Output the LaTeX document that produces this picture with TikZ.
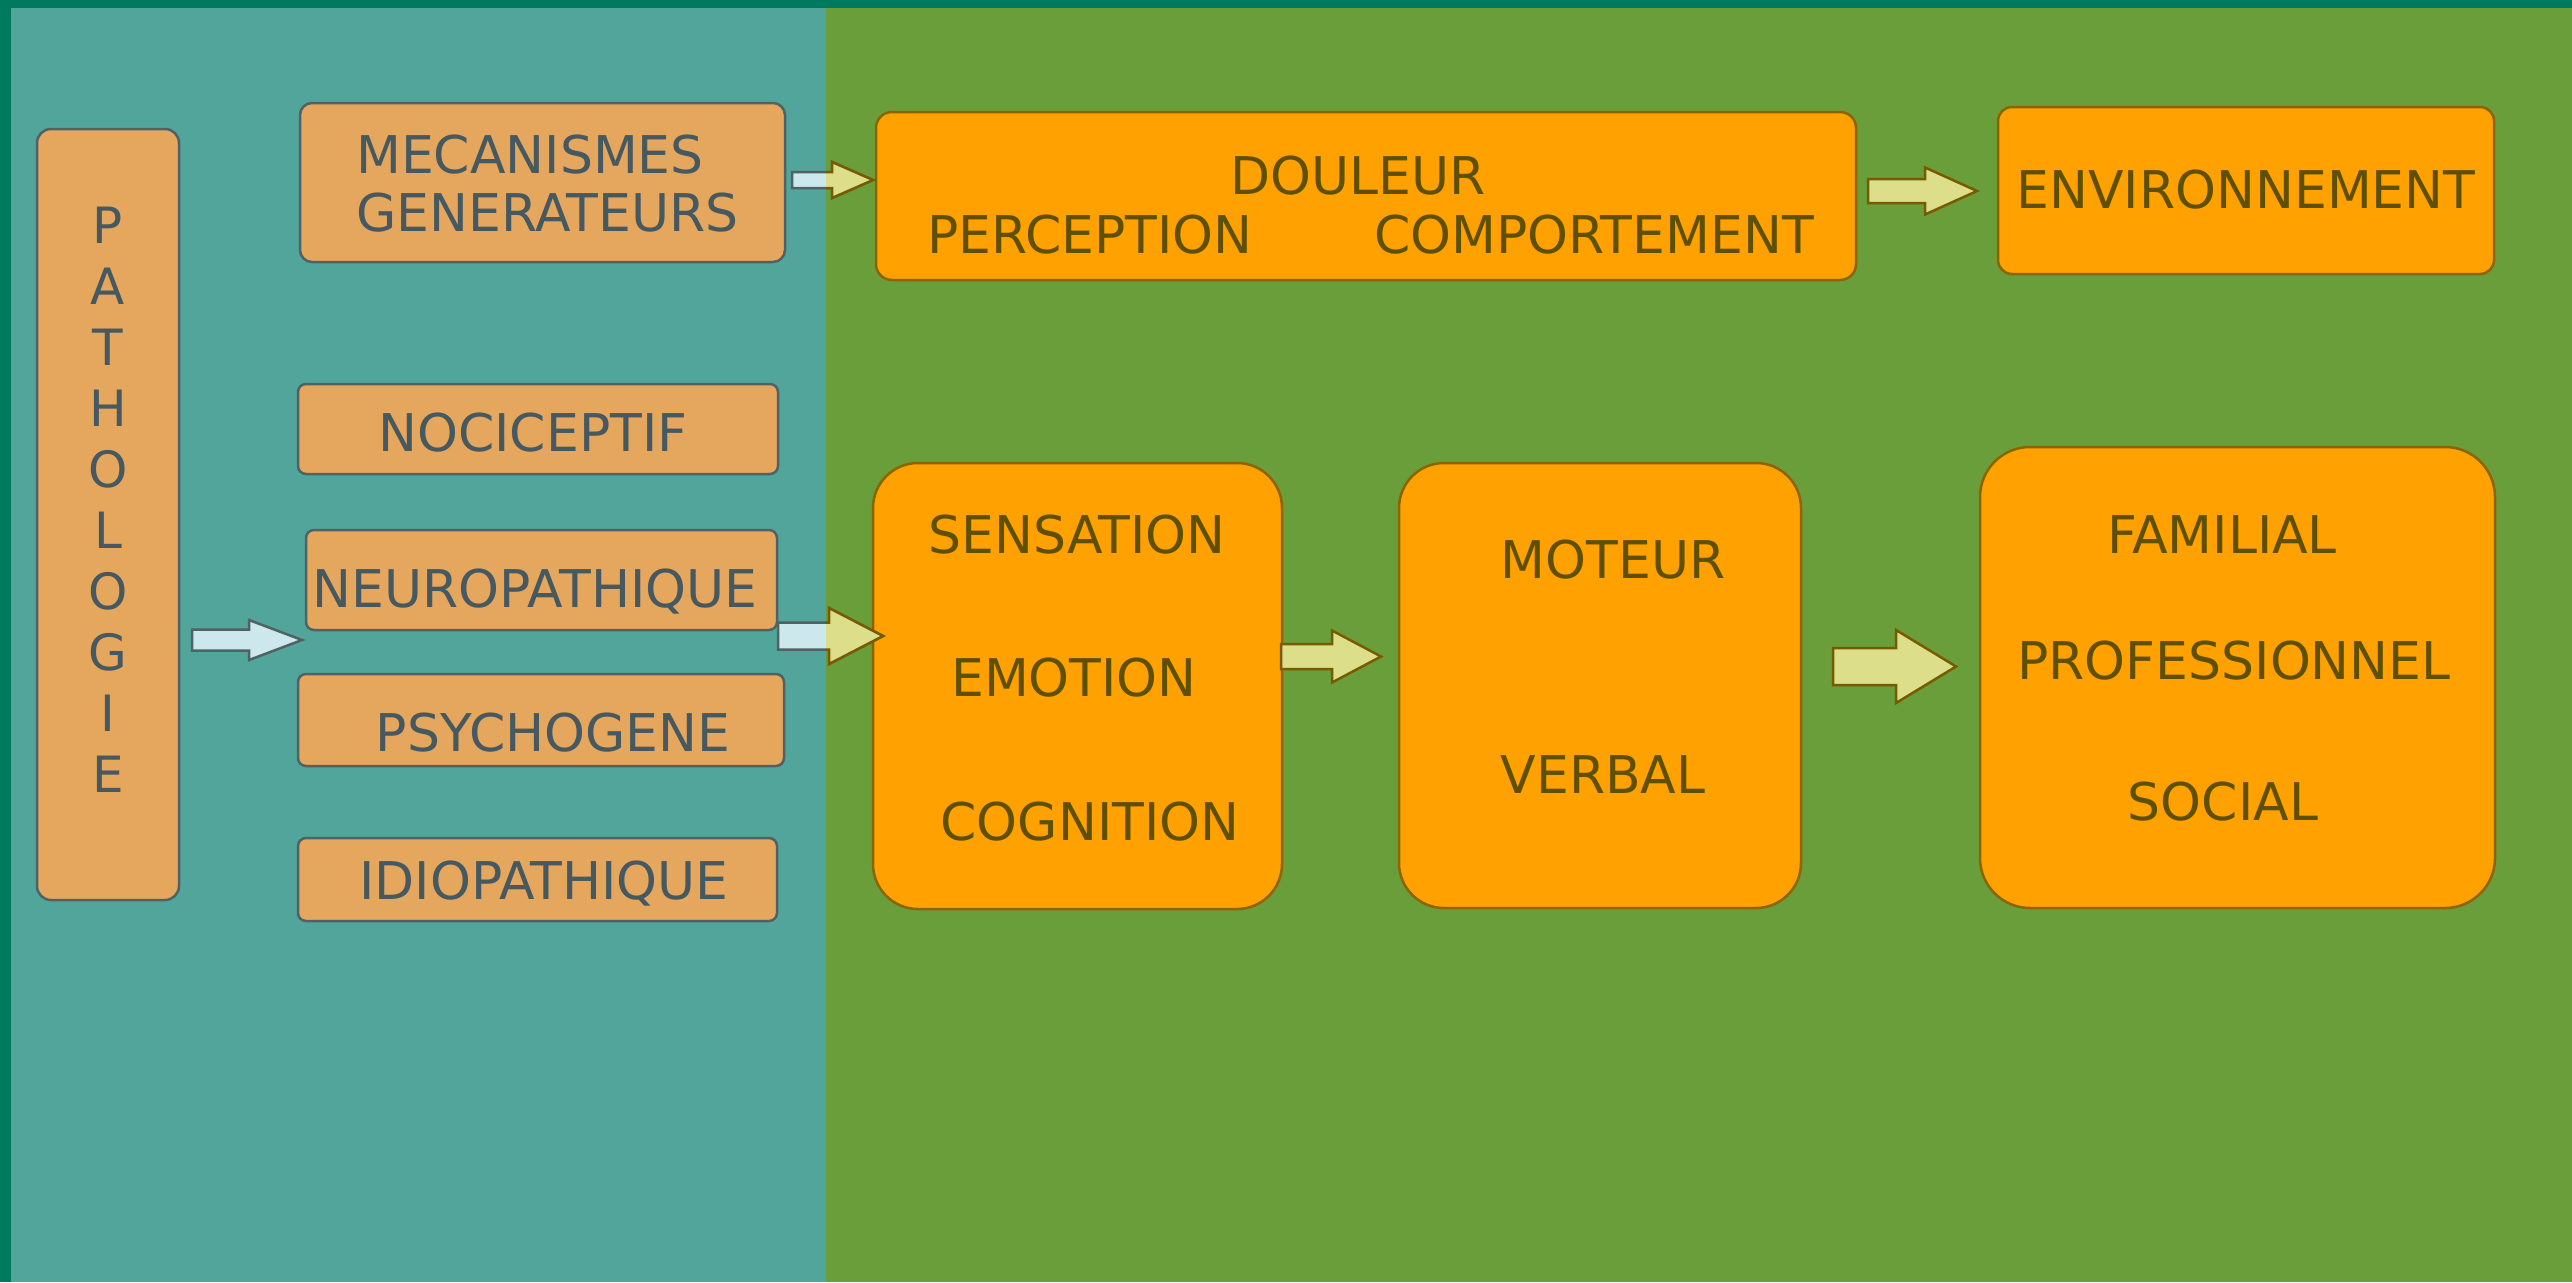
\documentclass[tikz,border=0pt]{standalone}
\usepackage{fontspec}
\setmainfont{DejaVu Sans}
\usetikzlibrary{calc}
\definecolor{frameclr}{RGB}{0,122,94}
\definecolor{tealbg}{RGB}{82,165,154}
\definecolor{greenbg}{RGB}{106,158,58}
\definecolor{tboxfill}{RGB}{229,166,94}
\definecolor{tboxedge}{RGB}{80,98,100}
\definecolor{oboxfill}{RGB}{255,161,0}
\definecolor{oboxedge}{RGB}{140,100,0}
\definecolor{tealtext}{RGB}{70,88,96}
\definecolor{otext}{RGB}{95,80,0}
\definecolor{lightblue}{RGB}{205,232,236}
\definecolor{yellowarr}{RGB}{221,222,138}
\definecolor{arredge}{RGB}{120,90,0}
\newcommand\blockarr[6]{%
  \path[#1] let \p1=(#2), \p2=(#3) in
   (\x1,{\y1+#4pt}) -- ({\x2-#6pt},{\y1+#4pt}) -- ({\x2-#6pt},{\y1+#5pt}) -- (\x2,\y1)
   -- ({\x2-#6pt},{\y1-#5pt}) -- ({\x2-#6pt},{\y1-#4pt}) -- (\x1,{\y1-#4pt}) -- cycle;}
\tikzset{
  tbox/.style={draw=tboxedge, fill=tboxfill, line width=2.5pt, inner sep=0pt},
  obox/.style={draw=oboxedge, fill=oboxfill, line width=2.5pt, inner sep=0pt},
  lbl/.style={inner sep=0pt, anchor=base, font=\fontsize{52}{62}\selectfont},
  tlbl/.style={lbl, text=tealtext},
  olbl/.style={lbl, text=otext},
  blueaw/.style={draw=tboxedge, fill=lightblue, line width=2.5pt, line join=miter},
  yelaw/.style={draw=arredge, fill=yellowarr, line width=2.5pt, line join=miter}
}
\begin{document}
\begin{tikzpicture}[x=1pt,y=-1pt]
\useasboundingbox (0,0) rectangle (2572,1282);
\fill[frameclr] (0,0) rectangle (2572,1282);
\fill[tealbg] (11,8) rectangle (826,1282);
\fill[greenbg] (826,8) rectangle (2572,1282);

% left column boxes
\node[tbox, rounded corners=14pt, minimum width=142pt, minimum height=771pt] (pat) at (108,514.5) {};
\node[tlbl, anchor=center, align=center, font=\fontsize{50}{61}\selectfont] (patt) at (108,500)
  {P\\A\\T\\H\\O\\L\\O\\G\\I\\E};
\node[tbox, rounded corners=12pt, minimum width=485pt, minimum height=159pt] (mec) at (542.5,182.5) {};
\node[tlbl, anchor=base west] (mec1) at (356,173) {MECANISMES};
\node[tlbl, anchor=base west] (mec2) at (356,231) {GENERATEURS};
\node[tbox, rounded corners=8pt, minimum width=480pt, minimum height=90pt] (noc) at (538,429) {};
\node[tlbl] (noct) at (533,451) {NOCICEPTIF};
\node[tbox, rounded corners=8pt, minimum width=471pt, minimum height=100pt] (neu) at (541.5,580) {};
\node[tlbl] (neut) at (535,607) {NEUROPATHIQUE};
\node[tbox, rounded corners=8pt, minimum width=486pt, minimum height=92pt] (psy) at (541,720) {};
\node[tlbl] (psyt) at (553,751) {PSYCHOGENE};
\node[tbox, rounded corners=8pt, minimum width=479pt, minimum height=83pt] (idi) at (537.5,879.5) {};
\node[tlbl] (idit) at (544,899) {IDIOPATHIQUE};

% right boxes
\node[obox, rounded corners=16pt, minimum width=980pt, minimum height=168pt] (dou) at (1366,196) {};
\node[olbl] (dout) at (1358,194) {DOULEUR};
\node[olbl] (pert) at (1090,253) {PERCEPTION};
\node[olbl] (comt) at (1594,253) {COMPORTEMENT};
\node[obox, rounded corners=14pt, minimum width=496pt, minimum height=167pt] (env) at (2246,190.5) {};
\node[olbl] (envt) at (2246,208) {ENVIRONNEMENT};
\node[obox, rounded corners=45pt, minimum width=409pt, minimum height=446pt] (sen) at (1077.5,686) {};
\node[olbl] (sent) at (1077,553) {SENSATION};
\node[olbl] (emot) at (1074,696) {EMOTION};
\node[olbl] (cogt) at (1090,840) {COGNITION};
\node[obox, rounded corners=45pt, minimum width=402pt, minimum height=445pt] (mot) at (1600,685.5) {};
\node[olbl] (mott) at (1613,578) {MOTEUR};
\node[olbl] (vert) at (1603,793) {VERBAL};
\node[obox, rounded corners=50pt, minimum width=515pt, minimum height=461pt] (fam) at (2237.5,677.5) {};
\node[olbl] (famt) at (2222,553) {FAMILIAL};
\node[olbl] (prot) at (2234,679) {PROFESSIONNEL};
\node[olbl] (soct) at (2223,820) {SOCIAL};

% arrow end points
\coordinate (a1s) at (192,640);  \coordinate (a1e) at (302,640);
\coordinate (a2s) at (792,180);  \coordinate (a2e) at (873,180);
\coordinate (a3s) at (778,636);  \coordinate (a3e) at (883,636);
\coordinate (a4s) at (1868,191); \coordinate (a4e) at (1977,191);
\coordinate (a5s) at (1281,656.5); \coordinate (a5e) at (1381,656.5);
\coordinate (a6s) at (1833,666.5); \coordinate (a6e) at (1956,666.5);

\blockarr{blueaw}{a1s}{a1e}{10.5}{20}{53}
\blockarr{blueaw}{a2s}{a2e}{8}{18}{41}
\blockarr{blueaw}{a3s}{a3e}{13.5}{28}{54}
\begin{scope}
  \clip (826,8) rectangle (2572,1282);
  \blockarr{yelaw}{a2s}{a2e}{8}{18}{41}
  \blockarr{yelaw}{a3s}{a3e}{13.5}{28}{54}
\end{scope}
\blockarr{yelaw}{a4s}{a4e}{12}{23.5}{52}
\blockarr{yelaw}{a5s}{a5e}{12.5}{26}{49}
\blockarr{yelaw}{a6s}{a6e}{18.5}{36.5}{60}
\end{tikzpicture}
\end{document}
